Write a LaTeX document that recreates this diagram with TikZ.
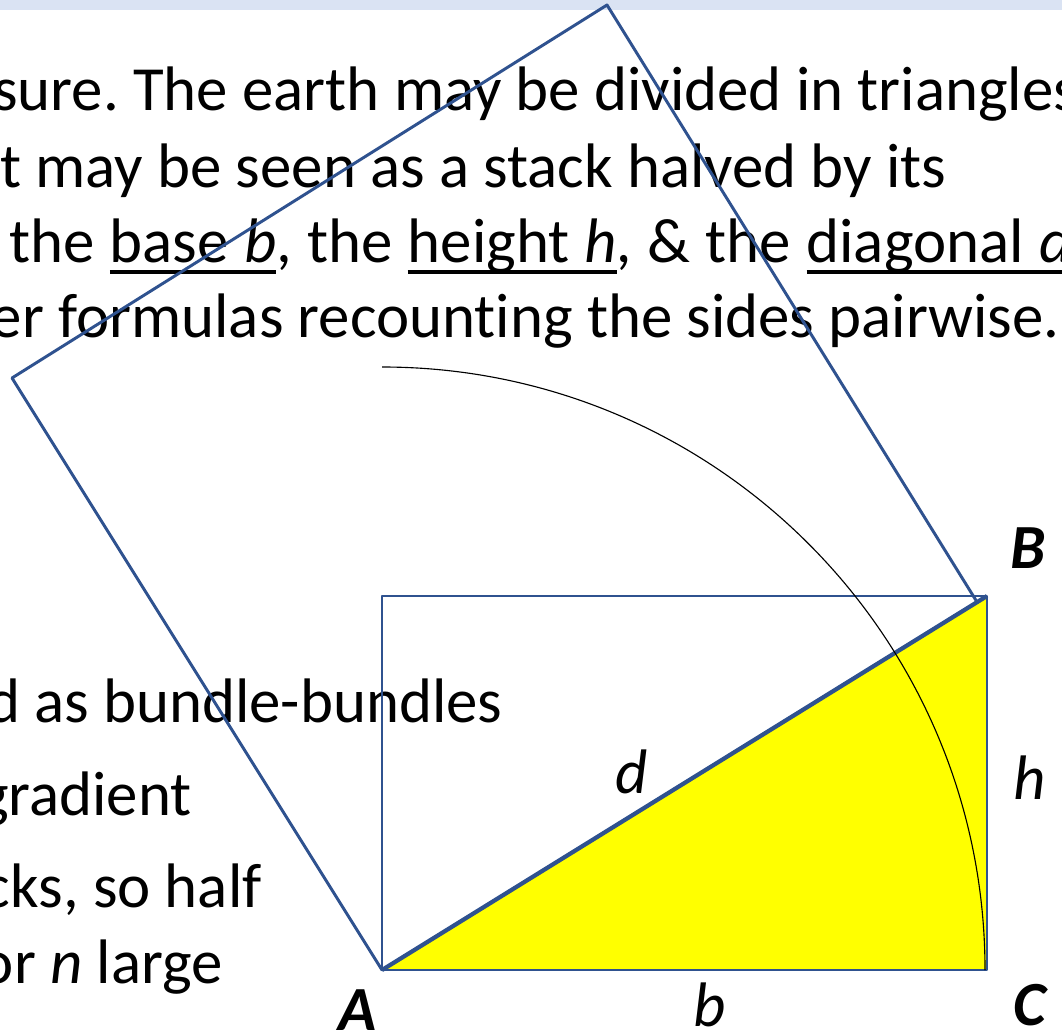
\documentclass[tikz,border=0pt]{standalone}
\usepackage{fontspec}
\setmainfont{Carlito}[Ligatures=NoCommon]
\usetikzlibrary{positioning}
\definecolor{slideblue}{RGB}{47,82,143}
\definecolor{bandblue}{RGB}{218,227,243}
\definecolor{fillyellow}{RGB}{255,255,0}
\newcommand{\slideul}[1]{\setbox0\hbox{#1}\rlap{\rule[-8.5pt]{\wd0}{2.8pt}}\box0}
\frenchspacing
\begin{document}
\begin{tikzpicture}[x=0.025cm, y=-0.025cm,
    edge/.style={draw=slideblue, line width=2.1pt, line join=round},
    slidetext/.style={font=\fontsize{44.7}{52}\selectfont, inner sep=0pt},
    vertexlabel/.style={font=\fontsize{44.7}{52}\selectfont\bfseries\itshape, inner sep=0pt},
    sidelabel/.style={font=\fontsize{44.7}{52}\selectfont\itshape, inner sep=0pt},
  ]
  \useasboundingbox (0,0) rectangle (1062,1031);
  \clip (0,0) rectangle (1062,1031);
  \fill[bandblue] (0,0) rectangle (1062,10);
  % slide text behind the figure
  \node[slidetext, anchor=base west] (line1) at (-7,111) {sure. The earth may be divided in triangles.};
  \node[slidetext, anchor=base west] (line2) at (0,187) {t may be seen as a stack halved by its};
  \node[slidetext, anchor=base west] (line3) at (9,262) {\spaceskip=10.8pt\relax the \slideul{base \textit{b}}, the \slideul{height \textit{h}}\textit{,} \& the \slideul{diagonal \textit{d}}};
  \node[slidetext, anchor=base east] (line4) at (1060,337) {er formulas recounting the sides pairwise.};
  \node[slidetext, anchor=base east] (line5) at (503,722) {d as bundle-bundles};
  \node[slidetext, anchor=base east] (line6) at (192,815) {gradient};
  \node[slidetext, anchor=base east] (line7) at (262,907) {cks, so half};
  \node[slidetext, anchor=base east] (line8) at (223,983) {or \textit{n} large};
  % figure
  \coordinate (A) at (382,970);
  \coordinate (B) at (987,596);
  \coordinate (C) at (987,970);
  \coordinate (D) at (382,596);
  \coordinate (Bs) at (977,602);
  \coordinate (P) at (607,5);
  \coordinate (Q) at (12,378);
  \fill[fillyellow] (A) -- (B) -- (C) -- cycle;
  \draw[edge] (A) -- (D) -- (B) -- (C) -- cycle;
  \draw[edge] (A) -- (Bs) -- (P) -- (Q) -- cycle;
  \draw[edge, line width=3pt] (A) -- (B);
  \draw[line width=0.8pt] (382,367) arc[start angle=-90, end angle=0, radius=603];
  \node[vertexlabel] (labA) at (358,1010) {A};
  \node[vertexlabel] (labB) at (1028,548) {B};
  \node[vertexlabel] (labC) at (1030,1005) {C};
  \node[sidelabel] (labd) at (632,772) {d};
  \node[sidelabel] (labh) at (1030,778) {h};
  \node[sidelabel] (labb) at (710,1005) {b};
\end{tikzpicture}
\end{document}
